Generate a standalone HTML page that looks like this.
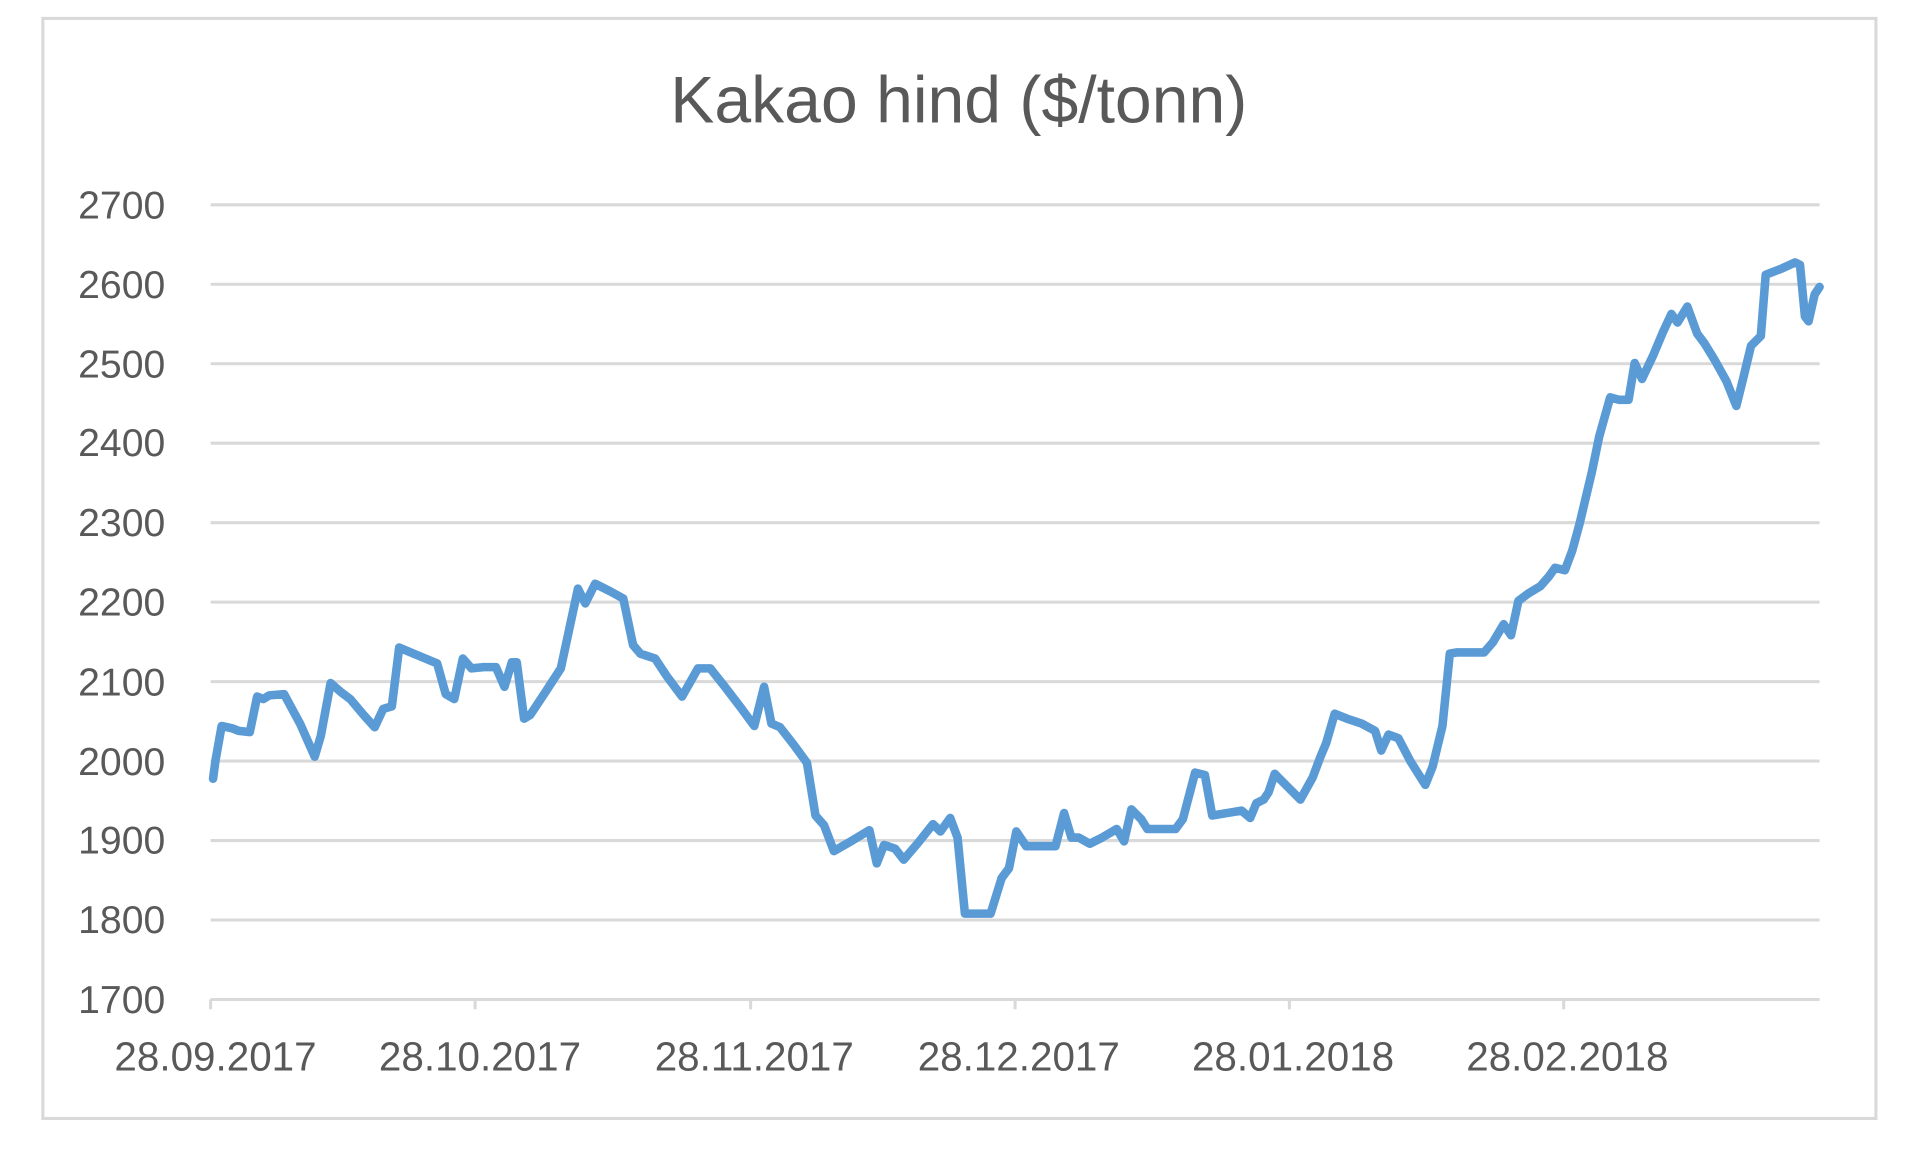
<!DOCTYPE html>
<html><head><meta charset="utf-8"><style>
html,body{margin:0;padding:0;background:#fff;}
svg{display:block;}
text{font-family:"Liberation Sans",sans-serif;fill:#595959;}
</style></head><body>
<svg width="1920" height="1154" viewBox="0 0 1568 941" preserveAspectRatio="none" xmlns="http://www.w3.org/2000/svg">
<rect x="0" y="0" width="1568" height="941" fill="#fff"/>
<rect x="35" y="15" width="1497" height="897" fill="none" stroke="#d9d9d9" stroke-width="2.5"/>
<text x="783" y="100" font-size="54" text-anchor="middle">Kakao hind ($/tonn)</text>
<g stroke="#d9d9d9" stroke-width="2.5">
<line x1="172" x2="1486" y1="167" y2="167"/>
<line x1="172" x2="1486" y1="231.8" y2="231.8"/>
<line x1="172" x2="1486" y1="296.6" y2="296.6"/>
<line x1="172" x2="1486" y1="361.4" y2="361.4"/>
<line x1="172" x2="1486" y1="426.2" y2="426.2"/>
<line x1="172" x2="1486" y1="491" y2="491"/>
<line x1="172" x2="1486" y1="555.8" y2="555.8"/>
<line x1="172" x2="1486" y1="620.6" y2="620.6"/>
<line x1="172" x2="1486" y1="685.4" y2="685.4"/>
<line x1="172" x2="1486" y1="750.2" y2="750.2"/>
<line x1="172" x2="1486" y1="815" y2="815"/>
<line x1="172" x2="172" y1="815" y2="823"/>
<line x1="388" x2="388" y1="815" y2="823"/>
<line x1="613" x2="613" y1="815" y2="823"/>
<line x1="829" x2="829" y1="815" y2="823"/>
<line x1="1053" x2="1053" y1="815" y2="823"/>
<line x1="1277" x2="1277" y1="815" y2="823"/>
</g>
<g font-size="32" text-anchor="end">
<text x="135" y="178">2700</text>
<text x="135" y="243">2600</text>
<text x="135" y="308">2500</text>
<text x="135" y="372">2400</text>
<text x="135" y="437">2300</text>
<text x="135" y="502">2200</text>
<text x="135" y="567">2100</text>
<text x="135" y="632">2000</text>
<text x="135" y="696">1900</text>
<text x="135" y="761">1800</text>
<text x="135" y="826">1700</text>
</g>
<g font-size="33" text-anchor="middle">
<text x="176" y="873">28.09.2017</text>
<text x="392" y="873">28.10.2017</text>
<text x="616" y="873">28.11.2017</text>
<text x="832" y="873">28.12.2017</text>
<text x="1056" y="873">28.01.2018</text>
<text x="1280" y="873">28.02.2018</text>
</g>
<polyline fill="none" stroke="#5b9bd5" stroke-width="7" stroke-linejoin="round" stroke-linecap="round" points="174,635 176,620 181,592 190,594 195,596 204,597 210,568 215,570 220,567 232,566 245,590 257,617 262,600 270,557 278,564 286,570 297,583 306,593 313,578 320,576 326,528 333,531 345,536 357,541 364,566 371,570 378,537 385,545 395,544 405,544 412,560 418,540 422,540 428,586 433,583 445,565 458,545 472,480 478,492 486,476 498,482 509,488 517,526 523,533 535,537 545,552 557,568 570,545 580,545 592,560 605,577 616,592 624,560 630,590 637,593 648,607 659,622 666,665 673,673 681,694 695,686 710,677 716,704 722,689 731,692 738,701 750,687 762,672 768,678 776,667 782,683 788,745 798,745 809,745 818,716 824,708 830,678 838,690 845,690 855,690 862,690 869,663 875,683 881,683 890,688 900,683 912,676 918,686 924,660 932,668 937,676 946,676 960,676 966,668 976,630 984,632 990,665 1002,663 1014,661 1021,667 1026,655 1032,652 1036,646 1041,631 1050,640 1062,652 1072,634 1078,618 1083,606 1090,582 1100,586 1112,590 1123,596 1128,612 1134,599 1142,602 1152,621 1164,640 1170,625 1178,592 1184,533 1190,532 1200,532 1212,532 1219,524 1228,509 1234,518 1240,490 1248,484 1258,478 1265,470 1270,463 1278,465 1284,449 1290,427 1300,385 1306,356 1315,324 1322,326 1330,326 1335,296 1341,309 1350,290 1358,271 1365,256 1370,263 1378,250 1386,272 1392,280 1400,293 1410,311 1418,331 1423,311 1430,282 1438,274 1442,224 1455,219 1466,214 1470,216 1474,258 1477,262 1482,240 1486,234"/>
</svg>
</body></html>
